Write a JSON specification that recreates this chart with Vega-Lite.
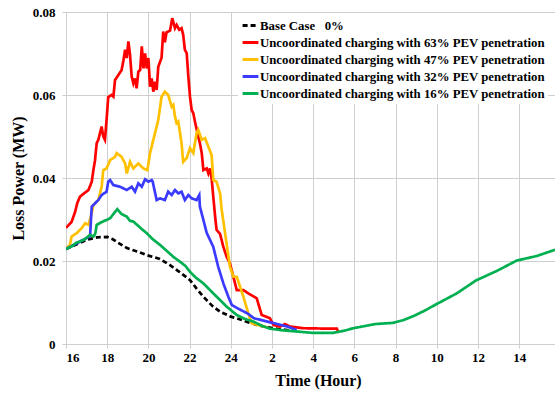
{
  "$schema": "https://vega.github.io/schema/vega-lite/v6.json",
  "width": 489,
  "height": 332,
  "autosize": {"type": "none"},
  "padding": {"left": 66, "top": 12, "right": 0, "bottom": 54},
  "background": "white",
  "config": {
    "view": {"stroke": null},
    "axis": {
      "labelFont": "Liberation Serif", "labelFontWeight": "bold", "labelFontSize": 13, "labelColor": "black",
      "titleFont": "Liberation Serif", "titleFontWeight": "bold", "titleFontSize": 16, "titleColor": "black",
      "gridColor": "#cfcfcf", "domainColor": "#cfcfcf", "tickColor": "#cfcfcf", "tickSize": 4
    },
    "legend": {
      "orient": "none", "legendX": 172, "legendY": 1, "fillColor": "white", "padding": 3,
      "labelFont": "Liberation Serif", "labelFontWeight": "bold", "labelFontSize": 12.8, "labelColor": "black",
      "symbolType": "stroke", "symbolStrokeWidth": 3, "symbolSize": 250, "labelLimit": 400, "rowPadding": -1, "labelOffset": 0
    }
  },
  "data": {"values": [
    {"s":"B","t":16,"v":0.0229},{"s":"B","t":16.5,"v":0.0240},{"s":"B","t":17,"v":0.0251},{"s":"B","t":17.5,"v":0.0257},{"s":"B","t":18,"v":0.0258},{"s":"B","t":18.25,"v":0.0253},{"s":"B","t":18.5,"v":0.0245},{"s":"B","t":18.96,"v":0.0231},{"s":"B","t":19.5,"v":0.0222},{"s":"B","t":19.93,"v":0.0214},{"s":"B","t":20.56,"v":0.0205},{"s":"B","t":21.05,"v":0.0190},{"s":"B","t":21.5,"v":0.0174},{"s":"B","t":22.02,"v":0.0154},{"s":"B","t":22.35,"v":0.0133},{"s":"B","t":22.67,"v":0.0114},{"s":"B","t":23.1,"v":0.0092},{"s":"B","t":23.48,"v":0.0078},{"s":"B","t":24,"v":0.0066},{"s":"B","t":24.29,"v":0.0062},{"s":"B","t":24.8,"v":0.0053},{"s":"B","t":25.26,"v":0.0046},{"s":"B","t":25.8,"v":0.0040},{"s":"B","t":26.3,"v":0.0036},{"s":"B","t":27,"v":0.0032},
    {"s":"R","t":16,"v":0.0280},{"s":"R","t":16.27,"v":0.0294},{"s":"R","t":16.44,"v":0.0318},{"s":"R","t":16.55,"v":0.0340},{"s":"R","t":16.68,"v":0.0355},{"s":"R","t":16.93,"v":0.0365},{"s":"R","t":17.09,"v":0.0371},{"s":"R","t":17.25,"v":0.0391},{"s":"R","t":17.33,"v":0.0419},{"s":"R","t":17.41,"v":0.0443},{"s":"R","t":17.49,"v":0.0484},{"s":"R","t":17.57,"v":0.0492},{"s":"R","t":17.65,"v":0.0508},{"s":"R","t":17.73,"v":0.0524},{"s":"R","t":17.81,"v":0.0500},{"s":"R","t":17.89,"v":0.0492},{"s":"R","t":17.97,"v":0.0540},{"s":"R","t":18.05,"v":0.0595},{"s":"R","t":18.21,"v":0.0600},{"s":"R","t":18.3,"v":0.0596},{"s":"R","t":18.38,"v":0.0636},{"s":"R","t":18.54,"v":0.0648},{"s":"R","t":18.7,"v":0.0660},{"s":"R","t":18.79,"v":0.0684},{"s":"R","t":18.87,"v":0.0709},{"s":"R","t":18.95,"v":0.0689},{"s":"R","t":19.03,"v":0.0729},{"s":"R","t":19.11,"v":0.0696},{"s":"R","t":19.19,"v":0.0644},{"s":"R","t":19.27,"v":0.0628},{"s":"R","t":19.35,"v":0.0640},{"s":"R","t":19.43,"v":0.0616},{"s":"R","t":19.51,"v":0.0656},{"s":"R","t":19.6,"v":0.0660},{"s":"R","t":19.68,"v":0.0717},{"s":"R","t":19.76,"v":0.0664},{"s":"R","t":19.84,"v":0.0700},{"s":"R","t":19.92,"v":0.0664},{"s":"R","t":20.0,"v":0.0689},{"s":"R","t":20.08,"v":0.0620},{"s":"R","t":20.16,"v":0.0640},{"s":"R","t":20.24,"v":0.0608},{"s":"R","t":20.32,"v":0.0632},{"s":"R","t":20.4,"v":0.0612},{"s":"R","t":20.48,"v":0.0668},{"s":"R","t":20.64,"v":0.0690},{"s":"R","t":20.72,"v":0.0753},{"s":"R","t":20.8,"v":0.0727},{"s":"R","t":20.88,"v":0.0751},{"s":"R","t":21.05,"v":0.0755},{"s":"R","t":21.16,"v":0.0785},{"s":"R","t":21.29,"v":0.0761},{"s":"R","t":21.37,"v":0.0769},{"s":"R","t":21.5,"v":0.0757},{"s":"R","t":21.61,"v":0.0761},{"s":"R","t":21.69,"v":0.0745},{"s":"R","t":21.77,"v":0.0709},{"s":"R","t":21.86,"v":0.0701},{"s":"R","t":21.94,"v":0.0644},{"s":"R","t":22.02,"v":0.0596},{"s":"R","t":22.1,"v":0.0564},{"s":"R","t":22.18,"v":0.0556},{"s":"R","t":22.26,"v":0.0536},{"s":"R","t":22.42,"v":0.0500},{"s":"R","t":22.5,"v":0.0484},{"s":"R","t":22.59,"v":0.0460},{"s":"R","t":22.67,"v":0.0419},{"s":"R","t":22.83,"v":0.0423},{"s":"R","t":22.91,"v":0.0411},{"s":"R","t":22.99,"v":0.0423},{"s":"R","t":23.07,"v":0.0399},{"s":"R","t":23.15,"v":0.0355},{"s":"R","t":23.24,"v":0.0307},{"s":"R","t":23.31,"v":0.0275},{"s":"R","t":23.48,"v":0.0265},{"s":"R","t":23.64,"v":0.0234},{"s":"R","t":23.8,"v":0.0210},{"s":"R","t":23.96,"v":0.0194},{"s":"R","t":24.29,"v":0.0130},{"s":"R","t":24.61,"v":0.0130},{"s":"R","t":24.85,"v":0.0122},{"s":"R","t":25.26,"v":0.0110},{"s":"R","t":25.5,"v":0.0070},{"s":"R","t":25.9,"v":0.0062},{"s":"R","t":26.07,"v":0.0046},{"s":"R","t":26.39,"v":0.0042},{"s":"R","t":26.63,"v":0.0048},{"s":"R","t":26.87,"v":0.0042},{"s":"R","t":27.52,"v":0.0038},{"s":"R","t":28.7,"v":0.0037},{"s":"R","t":29.15,"v":0.0037},{"s":"R","t":29.2,"v":0.0031},
    {"s":"O","t":16,"v":0.0229},{"s":"O","t":16.19,"v":0.0239},{"s":"O","t":16.27,"v":0.0259},{"s":"O","t":16.52,"v":0.0267},{"s":"O","t":16.76,"v":0.0279},{"s":"O","t":16.93,"v":0.0291},{"s":"O","t":17.09,"v":0.0287},{"s":"O","t":17.25,"v":0.0315},{"s":"O","t":17.33,"v":0.0335},{"s":"O","t":17.57,"v":0.0347},{"s":"O","t":17.73,"v":0.0379},{"s":"O","t":17.81,"v":0.0419},{"s":"O","t":17.97,"v":0.0423},{"s":"O","t":18.14,"v":0.0443},{"s":"O","t":18.38,"v":0.0451},{"s":"O","t":18.46,"v":0.0460},{"s":"O","t":18.7,"v":0.0451},{"s":"O","t":18.87,"v":0.0435},{"s":"O","t":18.95,"v":0.0411},{"s":"O","t":19.11,"v":0.0439},{"s":"O","t":19.27,"v":0.0423},{"s":"O","t":19.51,"v":0.0435},{"s":"O","t":19.76,"v":0.0423},{"s":"O","t":19.95,"v":0.0419},{"s":"O","t":20.08,"v":0.0460},{"s":"O","t":20.24,"v":0.0492},{"s":"O","t":20.4,"v":0.0524},{"s":"O","t":20.48,"v":0.0540},{"s":"O","t":20.64,"v":0.0596},{"s":"O","t":20.8,"v":0.0608},{"s":"O","t":20.96,"v":0.0600},{"s":"O","t":21.13,"v":0.0572},{"s":"O","t":21.21,"v":0.0576},{"s":"O","t":21.29,"v":0.0548},{"s":"O","t":21.37,"v":0.0532},{"s":"O","t":21.45,"v":0.0536},{"s":"O","t":21.61,"v":0.0484},{"s":"O","t":21.69,"v":0.0439},{"s":"O","t":21.86,"v":0.0448},{"s":"O","t":22.02,"v":0.0472},{"s":"O","t":22.18,"v":0.0460},{"s":"O","t":22.34,"v":0.0508},{"s":"O","t":22.42,"v":0.0516},{"s":"O","t":22.59,"v":0.0492},{"s":"O","t":22.75,"v":0.0496},{"s":"O","t":23.07,"v":0.0455},{"s":"O","t":23.15,"v":0.0395},{"s":"O","t":23.31,"v":0.0391},{"s":"O","t":23.48,"v":0.0363},{"s":"O","t":23.56,"v":0.0323},{"s":"O","t":23.72,"v":0.0268},{"s":"O","t":23.96,"v":0.0186},{"s":"O","t":24.13,"v":0.0162},{"s":"O","t":24.29,"v":0.0162},{"s":"O","t":24.45,"v":0.0138},{"s":"O","t":24.61,"v":0.0114},{"s":"O","t":24.85,"v":0.0074},{"s":"O","t":25.01,"v":0.0050},{"s":"O","t":25.3,"v":0.0046},{"s":"O","t":25.8,"v":0.0040},
    {"s":"U","t":16,"v":0.0229},{"s":"U","t":16.5,"v":0.0242},{"s":"U","t":16.8,"v":0.0250},{"s":"U","t":17.0,"v":0.0255},{"s":"U","t":17.17,"v":0.0260},{"s":"U","t":17.23,"v":0.0315},{"s":"U","t":17.25,"v":0.0331},{"s":"U","t":17.33,"v":0.0335},{"s":"U","t":17.57,"v":0.0347},{"s":"U","t":17.73,"v":0.0359},{"s":"U","t":17.97,"v":0.0367},{"s":"U","t":18.05,"v":0.0391},{"s":"U","t":18.14,"v":0.0395},{"s":"U","t":18.3,"v":0.0383},{"s":"U","t":18.62,"v":0.0379},{"s":"U","t":18.95,"v":0.0371},{"s":"U","t":19.19,"v":0.0379},{"s":"U","t":19.35,"v":0.0367},{"s":"U","t":19.51,"v":0.0387},{"s":"U","t":19.68,"v":0.0379},{"s":"U","t":19.84,"v":0.0397},{"s":"U","t":20.0,"v":0.0391},{"s":"U","t":20.16,"v":0.0395},{"s":"U","t":20.21,"v":0.0391},{"s":"U","t":20.4,"v":0.0347},{"s":"U","t":20.56,"v":0.0351},{"s":"U","t":20.8,"v":0.0347},{"s":"U","t":20.96,"v":0.0367},{"s":"U","t":21.13,"v":0.0359},{"s":"U","t":21.29,"v":0.0371},{"s":"U","t":21.45,"v":0.0363},{"s":"U","t":21.61,"v":0.0367},{"s":"U","t":21.77,"v":0.0347},{"s":"U","t":21.94,"v":0.0359},{"s":"U","t":22.1,"v":0.0351},{"s":"U","t":22.34,"v":0.0347},{"s":"U","t":22.47,"v":0.0359},{"s":"U","t":22.5,"v":0.0331},{"s":"U","t":22.67,"v":0.0299},{"s":"U","t":22.83,"v":0.0268},{"s":"U","t":22.99,"v":0.0251},{"s":"U","t":23.15,"v":0.0234},{"s":"U","t":23.39,"v":0.0186},{"s":"U","t":23.64,"v":0.0146},{"s":"U","t":23.88,"v":0.0114},{"s":"U","t":24.05,"v":0.0094},{"s":"U","t":24.33,"v":0.0086},{"s":"U","t":24.8,"v":0.0074},{"s":"U","t":25.13,"v":0.0062},{"s":"U","t":25.78,"v":0.0054},{"s":"U","t":26.75,"v":0.0042},{"s":"U","t":27.2,"v":0.0034},
    {"s":"G","t":16,"v":0.0229},{"s":"G","t":16.3,"v":0.0236},{"s":"G","t":16.5,"v":0.0244},{"s":"G","t":16.68,"v":0.0247},{"s":"G","t":16.9,"v":0.0252},{"s":"G","t":17.0,"v":0.0256},{"s":"G","t":17.17,"v":0.0263},{"s":"G","t":17.33,"v":0.0259},{"s":"G","t":17.42,"v":0.0266},{"s":"G","t":17.49,"v":0.0287},{"s":"G","t":17.7,"v":0.0293},{"s":"G","t":17.97,"v":0.0299},{"s":"G","t":18.14,"v":0.0303},{"s":"G","t":18.3,"v":0.0313},{"s":"G","t":18.49,"v":0.0325},{"s":"G","t":18.7,"v":0.0313},{"s":"G","t":18.95,"v":0.0307},{"s":"G","t":19.1,"v":0.0297},{"s":"G","t":19.27,"v":0.0295},{"s":"G","t":19.5,"v":0.0285},{"s":"G","t":19.7,"v":0.0276},{"s":"G","t":19.92,"v":0.0267},{"s":"G","t":20.2,"v":0.0253},{"s":"G","t":20.56,"v":0.0239},{"s":"G","t":20.9,"v":0.0224},{"s":"G","t":21.21,"v":0.0210},{"s":"G","t":21.54,"v":0.0198},{"s":"G","t":21.8,"v":0.0188},{"s":"G","t":22.02,"v":0.0174},{"s":"G","t":22.3,"v":0.0160},{"s":"G","t":22.67,"v":0.0146},{"s":"G","t":23.15,"v":0.0122},{"s":"G","t":23.5,"v":0.0105},{"s":"G","t":23.8,"v":0.0090},{"s":"G","t":24.29,"v":0.0070},{"s":"G","t":24.7,"v":0.0060},{"s":"G","t":25.1,"v":0.0054},{"s":"G","t":25.5,"v":0.0044},{"s":"G","t":25.9,"v":0.0037},{"s":"G","t":26.5,"v":0.0033},{"s":"G","t":27.0,"v":0.0031},{"s":"G","t":27.93,"v":0.0027},{"s":"G","t":28.98,"v":0.0027},{"s":"G","t":29.5,"v":0.0032},{"s":"G","t":29.95,"v":0.0038},{"s":"G","t":31.0,"v":0.0048},{"s":"G","t":31.89,"v":0.0051},{"s":"G","t":32.4,"v":0.0058},{"s":"G","t":32.86,"v":0.0067},{"s":"G","t":33.4,"v":0.0080},{"s":"G","t":33.91,"v":0.0094},{"s":"G","t":34.97,"v":0.0122},{"s":"G","t":35.9,"v":0.0153},{"s":"G","t":36.91,"v":0.0176},{"s":"G","t":37.88,"v":0.0201},{"s":"G","t":38.85,"v":0.0212},{"s":"G","t":39.74,"v":0.0227}
  ]},
  "mark": {"type": "line", "strokeWidth": 2.7, "clip": true},
  "encoding": {
    "x": {
      "field": "t", "type": "quantitative",
      "scale": {"domain": [16, 39.74], "nice": false, "zero": false},
      "axis": {
        "title": "Time (Hour)", "values": [16,18,20,22,24,26,28,30,32,34,36,38],
        "labelExpr": "'' + (datum.value > 24 ? datum.value - 24 : datum.value)",
        "labelPadding": 3, "titlePadding": 8, "titleX": 252
      }
    },
    "y": {
      "field": "v", "type": "quantitative",
      "scale": {"domain": [0, 0.08], "nice": false},
      "axis": {
        "title": "Loss Power (MW)", "values": [0,0.02,0.04,0.06,0.08],
        "labelExpr": "datum.value == 0 ? '0' : format(datum.value, '.2f')",
        "labelPadding": 7, "titlePadding": 6
      }
    },
    "color": {
      "field": "s", "type": "nominal",
      "scale": {"domain": ["B","R","O","U","G"], "range": ["#000000","#ff0000","#ffc000","#3b3bff","#00b050"]},
      "legend": {"title": null, "labelExpr": "datum.label == 'B' ? 'Base Case\u00a0\u00a0\u00a00%' : datum.label == 'R' ? 'Uncoordinated charging with 63% PEV penetration' : datum.label == 'O' ? 'Uncoordinated charging with 47% PEV penetration' : datum.label == 'U' ? 'Uncoordinated charging with 32% PEV penetration' : 'Uncoordinated charging with 16% PEV penetration'"}
    },
    "strokeDash": {
      "field": "s", "type": "nominal",
      "scale": {"domain": ["B","R","O","U","G"], "range": [[5,3],[1,0],[1,0],[1,0],[1,0]]},
      "legend": {"title": null, "labelExpr": "datum.label == 'B' ? 'Base Case\u00a0\u00a0\u00a00%' : datum.label == 'R' ? 'Uncoordinated charging with 63% PEV penetration' : datum.label == 'O' ? 'Uncoordinated charging with 47% PEV penetration' : datum.label == 'U' ? 'Uncoordinated charging with 32% PEV penetration' : 'Uncoordinated charging with 16% PEV penetration'"}
    }
  }
}
